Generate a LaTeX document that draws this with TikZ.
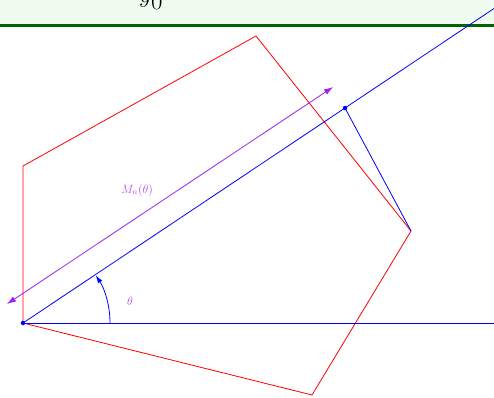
\documentclass[tikz,border=0pt]{standalone}
\usetikzlibrary{arrows.meta}
\definecolor{bandfill}{RGB}{240,252,240}
\definecolor{bandline}{RGB}{0,100,0}
\definecolor{arrowpurple}{RGB}{160,32,240}
\definecolor{labelpurple}{RGB}{176,80,240}
\tikzset{
  edge/.style={red,line width=0.8pt,line join=miter},
  ray/.style={blue,line width=0.8pt},
  meas/.style={arrowpurple,line width=0.8pt,{Latex[length=9pt,width=6pt]}-{Latex[length=9pt,width=6pt]}},
  dot/.style={circle,fill=blue,inner sep=0pt,minimum size=4.5pt},
  lbl/.style={labelpurple,font=\fontsize{11.5}{13}\selectfont,inner sep=0pt}
}
\begin{document}
\begin{tikzpicture}[x=1pt,y=-1pt]
\useasboundingbox (0,0) rectangle (494,397);
\clip (0,0) rectangle (494,397);
% band
\fill[bandfill] (0,0) rectangle (494,24.5);
\draw[bandline,line width=3pt] (0,25.5) -- (494,25.5);
\node[anchor=base west,inner sep=0pt,font=\fontsize{38}{42}\selectfont] (title) at (139,2.5) {$y_0$};
% points
\coordinate (O) at (23,323);
\coordinate (P1) at (23,166);
\coordinate (P2) at (256,36);
\coordinate (P3) at (411,231);
\coordinate (P4) at (312,395);
\coordinate (F) at (345,108);
\coordinate (Rend) at (494,8.5);
\coordinate (Hend) at (494,323);
\coordinate (M1) at (7,304);
\coordinate (M2) at (333,87);
% polygon
\draw[edge] (O) -- (P1) -- (P2) -- (P3) -- (P4) -- cycle;
% rays
\draw[ray] (O) -- (Hend);
\draw[ray] (O) -- (Rend);
\draw[ray] (F) -- (P3);
% angle arc
\draw[ray,-{Latex[length=8pt,width=5pt]}] (110,323) arc[start angle=0,end angle=-33.3,radius=87];
% measure arrow
\draw[meas] (M1) -- (M2);
\node[lbl] (mlab) at (137,190) {$M_n(\theta)$};
\node[lbl] (tlab) at (130,301) {$\theta$};
% dots
\node[dot] (dO) at (O) {};
\node[dot] (dF) at (F) {};
\end{tikzpicture}
\end{document}
